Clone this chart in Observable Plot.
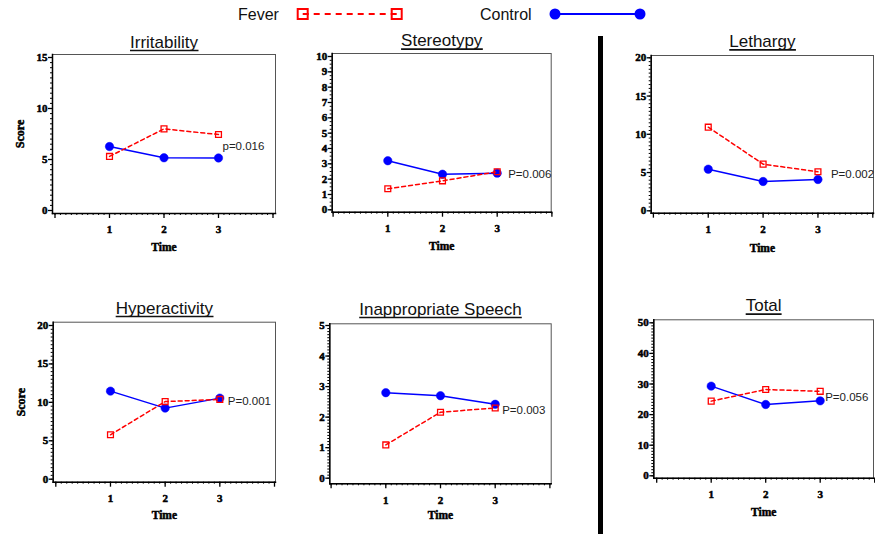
<!DOCTYPE html>
<html><head><meta charset="utf-8">
<script src="https://cdn.jsdelivr.net/npm/d3@7"></script>
<script src="https://cdn.jsdelivr.net/npm/@observablehq/plot@0.6"></script>
<style>
body{margin:0;background:#fff;}
#root{position:relative;width:875px;height:534px;overflow:hidden;background:#fff;font-family:"Liberation Sans",Arial,sans-serif;}
.panel{position:absolute;}
.panel svg{overflow:visible;}
#legend{position:absolute;left:0;top:0;}
#bar{position:absolute;left:598px;top:36px;width:5px;height:498px;background:#000;}
</style></head><body><div id="root"></div>
<script>
// ---- data ----
const times = [1, 2, 3];
const panelTitles = ["Irritability", "Stereotypy", "Lethargy", "Hyperactivity", "Inappropriate Speech", "Total"];
const feverIrritability = [5.3, 8.0, 7.45];
const controlIrritability = [6.27, 5.17, 5.15];
const feverStereotypy = [1.37, 1.89, 2.48];
const controlStereotypy = [3.2, 2.32, 2.39];
const feverLethargy = [10.93, 6.1, 5.1];
const controlLethargy = [5.44, 3.83, 4.09];
const feverHyperactivity = [5.78, 10.1, 10.38];
const controlHyperactivity = [11.46, 9.25, 10.55];
const feverSpeech = [1.09, 2.16, 2.3];
const controlSpeech = [2.8, 2.7, 2.42];
const feverTotal = [24.4, 28.2, 27.6];
const controlTotal = [29.3, 23.3, 24.5];
const pLabels = ["p=0.016", "P=0.006", "P=0.002", "P=0.001", "P=0.003", "P=0.056"];
const pLabelY = [6.27, 2.3, 4.75, 10.1, 2.22, 25.6];
const yMax = [15, 10, 20, 20, 5, 50];
const yStep = [5, 1, 5, 5, 1, 10];
const yMinorStep = [0.5, 0.25, 0.5, 0.5, 0.1, 1];
const xTicks = [0, 1, 2, 3, 4];
const xTickLabels = ["", "1", "2", "3", ""];
const groups = ["Fever", "Control"];
const axisNames = ["Time", "Score"];

const feverSeries = [feverIrritability, feverStereotypy, feverLethargy, feverHyperactivity, feverSpeech, feverTotal];
const controlSeries = [controlIrritability, controlStereotypy, controlLethargy, controlHyperactivity, controlSpeech, controlTotal];

// ---- layout (pixel geometry of each panel) ----
const layout = [
  {ox:0,   oy:30,  W:290, H:235, L:52,    R:275,   T:54,    B:213,   x0:54.5,  x4:272.5, y0:210,   yTop:57,    titleDy:-12.2, timeDy:33.5, pDx:4,  score:true},
  {ox:295, oy:30,  W:275, H:235, L:331.7, R:550.7, T:53,    B:211.7, x0:332.6, x4:551.4, y0:209.3, yTop:56,    titleDy:-12.6, timeDy:34.3, pDx:11, score:false},
  {ox:605, oy:30,  W:270, H:235, L:650.7, R:873,   T:55,    B:212.7, x0:652.9, x4:872.3, y0:210.3, yTop:57.3,  titleDy:-13.9, timeDy:35.4, pDx:13, score:false},
  {ox:0,   oy:290, W:290, H:240, L:52.7,  R:275,   T:321.7, B:481.7, x0:55.3,  x4:274,   y0:478.7, yTop:325,   titleDy:-13.9, timeDy:33.3, pDx:8,  score:true},
  {ox:295, oy:290, W:275, H:240, L:329.3, R:550.7, T:323.3, B:483.3, x0:330.6, x4:549.4, y0:477.7, yTop:325,   titleDy:-14.5, timeDy:31.7, pDx:7,  score:false},
  {ox:605, oy:290, W:270, H:240, L:653.3, R:873,   T:319.3, B:477.7, x0:656.2, x4:874.2, y0:475.3, yTop:322.3, titleDy:-13.9, timeDy:34.6, pDx:5,  score:false}
];

const root = document.getElementById("root");
const serif = "'Liberation Serif','Times New Roman',serif";
const sans = "'Liberation Sans',Arial,sans-serif";

panelTitles.forEach((title, i) => {
  const g = layout[i];
  const fever = times.map((t, k) => ({time: t, score: feverSeries[i][k], group: groups[0]}));
  const control = times.map((t, k) => ({time: t, score: controlSeries[i][k], group: groups[1]}));
  const majorY = d3.range(0, yMax[i] + 1e-9, yStep[i]);
  const minorY = d3.range(0, yMax[i] + 1e-9, yMinorStep[i]);
  const minorX = d3.range(0, 4 + 1e-9, 0.1);
  const marks = [
    Plot.frame({stroke: "#555", strokeWidth: 1}),
    Plot.axisY({ticks: minorY, tickSize: 2, tickFormat: () => "", label: null}),
    Plot.axisY({ticks: majorY, tickSize: 4, tickPadding: 1, strokeWidth: 1.3, tickFormat: d => String(d), label: null,
      fontFamily: serif, fontWeight: "bold", fontSize: 11}),
    Plot.axisX({ticks: minorX, tickSize: 2, tickFormat: () => "", label: null}),
    Plot.axisX({ticks: xTicks, tickSize: 5, tickPadding: 7, strokeWidth: 1.3, tickFormat: d => xTickLabels[xTicks.indexOf(d)] ?? "", label: null,
      fontFamily: serif, fontWeight: "bold", fontSize: 11}),
    Plot.frame({anchor: "left", stroke: "#000", strokeWidth: 1.5}),
    Plot.frame({anchor: "bottom", stroke: "#000", strokeWidth: 1.5}),
    Plot.line(control, {x: "time", y: "score", stroke: "#0000ff", strokeWidth: 1.5}),
    Plot.dot(control, {x: "time", y: "score", r: 4.2, fill: "#0000ff", stroke: "#0000ff", strokeWidth: 0.5}),
    Plot.line(fever, {x: "time", y: "score", stroke: "#ff0000", strokeWidth: 1.5, strokeDasharray: "4,3"}),
    Plot.dot(fever, {x: "time", y: "score", symbol: "square", r: 3.3, fill: "none", stroke: "#ff0000", strokeWidth: 1.3}),
    Plot.text([pLabels[i]], {x: () => times[times.length - 1], y: () => pLabelY[i], text: d => d, dx: g.pDx, textAnchor: "start",
      lineAnchor: "middle", fontFamily: sans, fontWeight: "normal", fontSize: 11.5, fill: "#222"}),
    Plot.text([title], {frameAnchor: "top", dy: g.titleDy, lineAnchor: "middle", textAnchor: "middle", text: d => d,
      fontFamily: sans, fontWeight: "normal", fontSize: 17, fill: "#111"}),
    Plot.text([axisNames[0]], {frameAnchor: "bottom", dy: g.timeDy, lineAnchor: "middle", textAnchor: "middle", text: d => d,
      fontFamily: serif, fontWeight: "bold", fontSize: 11.5})
  ];
  if (g.score) {
    marks.push(Plot.text([axisNames[1]], {frameAnchor: "left", dx: -32, rotate: -90, lineAnchor: "middle", textAnchor: "middle",
      text: d => d, fontFamily: serif, fontWeight: "bold", fontSize: 12}));
  }
  const svg = Plot.plot({
    width: g.W, height: g.H,
    marginLeft: g.L - g.ox, marginRight: g.ox + g.W - g.R,
    marginTop: g.T - g.oy, marginBottom: g.oy + g.H - g.B,
    x: {domain: [0, 4], range: [g.x0 - g.ox, g.x4 - g.ox], label: null},
    y: {domain: [0, yMax[i]], range: [g.y0 - g.oy, g.yTop - g.oy], label: null},
    style: {fontFamily: serif, fontSize: "11px", background: "transparent", color: "#000"},
    marks
  });
  const div = document.createElement("div");
  div.className = "panel";
  div.style.left = g.ox + "px";
  div.style.top = g.oy + "px";
  div.appendChild(svg);
  root.appendChild(div);
  const sel = d3.select(svg);
  // heavier serif labels (ticks, Time, Score)
  sel.selectAll("text").filter(function() {
    const t = this.textContent;
    return /^\d+$/.test(t) || axisNames.includes(t);
  }).attr("stroke", "#000").attr("stroke-width", 0.5);
  // underline the panel title
  sel.selectAll("text").filter(function() { return this.textContent === title; }).each(function() {
    const bb = this.getBBox();
    const tr = this.getAttribute("transform");
    const ln = d3.select(this.parentNode).append("line")
      .attr("x1", bb.x).attr("x2", bb.x + bb.width)
      .attr("y1", bb.y + bb.height - 1.2).attr("y2", bb.y + bb.height - 1.2)
      .attr("stroke", "#111").attr("stroke-width", 1.6);
    if (tr) ln.attr("transform", tr);
  });
});

// vertical separator
const bar = document.createElement("div");
bar.id = "bar";
root.appendChild(bar);

// legend
const leg = d3.create("svg").attr("id", "legend").attr("width", 875).attr("height", 30);
leg.append("text").attr("x", 238).attr("y", 20).attr("font-family", sans).attr("font-size", 16).attr("fill", "#111").text(groups[0]);
leg.append("line").attr("x1", 302.7).attr("x2", 396.7).attr("y1", 14).attr("y2", 14)
  .attr("stroke", "#ff0000").attr("stroke-width", 2).attr("stroke-dasharray", "6,5");
[302.7, 396.7].forEach(cx => leg.append("rect").attr("x", cx - 5).attr("y", 9).attr("width", 10).attr("height", 10)
  .attr("fill", "none").attr("stroke", "#ff0000").attr("stroke-width", 2));
leg.append("text").attr("x", 480).attr("y", 20).attr("font-family", sans).attr("font-size", 16).attr("fill", "#111").text(groups[1]);
leg.append("line").attr("x1", 555).attr("x2", 640).attr("y1", 14).attr("y2", 14).attr("stroke", "#0000ff").attr("stroke-width", 2);
[555, 640].forEach(cx => leg.append("circle").attr("cx", cx).attr("cy", 14).attr("r", 5.5).attr("fill", "#0000ff"));
root.appendChild(leg.node());
</script>
</body></html>
